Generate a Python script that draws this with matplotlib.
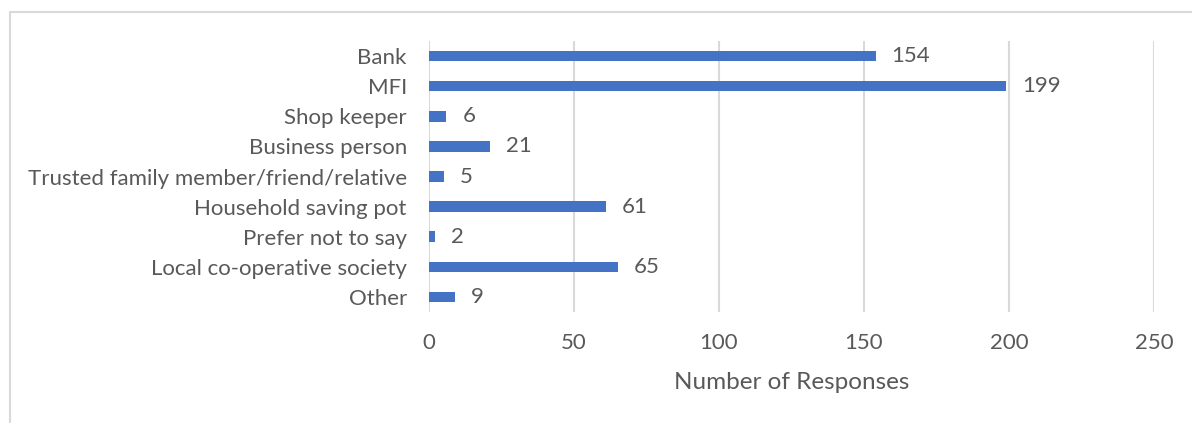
import matplotlib.pyplot as plt
from matplotlib.patches import Rectangle

categories = ["Bank", "MFI", "Shop keeper", "Business person",
              "Trusted family member/friend/relative", "Household saving pot",
              "Prefer not to say", "Local co-operative society", "Other"]
responses = [154, 199, 6, 21, 5, 61, 2, 65, 9]
x_ticks = [0, 50, 100, 150, 200, 250]

W, H = 1192, 423
fig = plt.figure(figsize=(W / 100, H / 100), dpi=100)
plt.rcParams['font.family'] = ['Lato', 'DejaVu Sans']
text_color = "#595959"
bar_color = "#4472C4"

# chart frame (open on right/bottom)
fig.patches.append(Rectangle((10 / W, -0.1), 1.2, (H - 12) / H + 0.1,
                             transform=fig.transFigure, fill=False,
                             edgecolor="#d9d9d9", linewidth=1.5))

left, right = 429 / W, 1154 / W
top, bottom = 1 - 41 / H, 1 - 312 / H
ax = fig.add_axes([left, bottom, right - left, top - bottom])

y = list(range(len(categories)))
ax.barh(y, responses, height=0.35, color=bar_color, zorder=3)
ax.set_ylim(len(categories) - 0.5, -0.5)
ax.set_xlim(0, 250)
ax.set_xticks(x_ticks)
ax.set_yticks(y)
ax.set_yticklabels(categories)
ax.grid(axis="x", color="#d9d9d9", linewidth=1.5, zorder=0)
for s in ax.spines.values():
    s.set_visible(False)
ax.tick_params(axis="both", length=0, labelsize=16, colors=text_color)
ax.tick_params(axis="y", pad=16)
ax.tick_params(axis="x", pad=15)

for yi, v in zip(y, responses):
    ax.text(v + 5.5, yi, str(v), va="center", ha="left", fontsize=16,
            color=text_color)

ax.set_xlabel("Number of Responses", fontsize=17.5, color=text_color, labelpad=14)

fig.savefig("out.png", dpi=100)
